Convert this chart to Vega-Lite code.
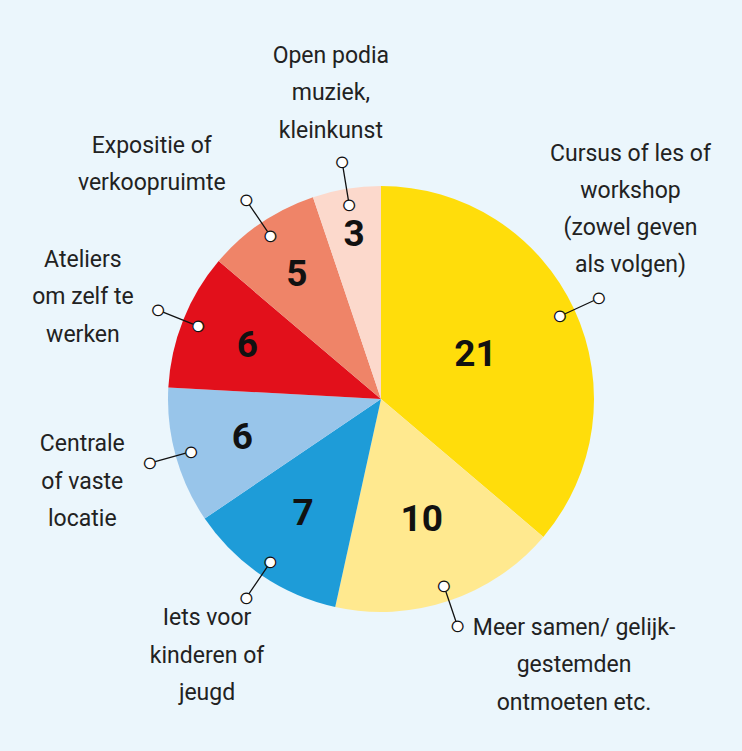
{
  "$schema": "https://vega.github.io/schema/vega-lite/v6.json",
  "width": 742,
  "height": 751,
  "autosize": {"type": "fit", "contains": "padding"},
  "padding": {"left": 20, "top": 47, "right": 0, "bottom": 0},
  "background": "#EBF6FC",
  "config": {"view": {"stroke": null}},
  "data": {
    "values": [
      {"i": 1, "cat": "Cursus", "value": 21, "label": ["Cursus of les of", "workshop", "(zowel geven", "als volgen)"]},
      {"i": 2, "cat": "Meer samen", "value": 10, "label": ["Meer samen/ gelijk-", "gestemden", "ontmoeten etc."]},
      {"i": 3, "cat": "Iets voor", "value": 7, "label": ["Iets voor", "kinderen of", "jeugd"]},
      {"i": 4, "cat": "Centrale", "value": 6, "label": ["Centrale", "of vaste", "locatie"]},
      {"i": 5, "cat": "Ateliers", "value": 6, "label": ["Ateliers", "om zelf te", "werken"]},
      {"i": 6, "cat": "Expositie", "value": 5, "label": ["Expositie of", "verkoopruimte"]},
      {"i": 7, "cat": "Open podia", "value": 3, "label": ["Open podia", "muziek,", "kleinkunst"]}
    ]
  },
  "encoding": {
    "theta": {"field": "value", "type": "quantitative", "stack": true},
    "order": {"field": "i", "type": "quantitative"}
  },
  "layer": [
    {
      "mark": {"type": "arc", "outerRadius": 213},
      "encoding": {
        "color": {
          "field": "cat",
          "type": "nominal",
          "legend": null,
          "scale": {
            "domain": ["Cursus", "Meer samen", "Iets voor", "Centrale", "Ateliers", "Expositie", "Open podia"],
            "range": ["#FFDD0B", "#FFE98F", "#1E9CD8", "#98C5EA", "#E2101B", "#EF8468", "#FCD9CC"]
          }
        }
      }
    },
    {
      "mark": {"type": "text", "font": "Roboto", "fontWeight": "bold", "fontSize": 37, "fill": "#111111", "align": "center", "baseline": "middle"},
      "encoding": {
        "radius": {"field": "value", "type": "quantitative", "scale": {"type": "log", "domain": [3, 21], "range": [166, 104]}},
        "text": {"field": "value", "type": "quantitative"}
      }
    },
    {
      "mark": {"type": "arc", "outerRadius": 240, "innerRadius": 197, "padAngle": 3.14159, "filled": false, "stroke": "#111111", "strokeWidth": 1.3}
    },
    {
      "mark": {"type": "text", "text": "●", "font": "DejaVu Sans", "fontSize": 14, "fill": "#ffffff", "stroke": "#111111", "strokeWidth": 1.3, "align": "center", "baseline": "middle", "radius": 197}
    },
    {
      "mark": {"type": "text", "text": "●", "font": "DejaVu Sans", "fontSize": 14, "fill": "#ffffff", "stroke": "#111111", "strokeWidth": 1.3, "align": "center", "baseline": "middle", "radius": 240}
    },
    {
      "mark": {"type": "text", "font": "Roboto", "fontSize": 23, "fill": "#222222", "align": "center", "baseline": "middle", "lineHeight": 37.5, "radius": 310, "dy": -37.5},
      "encoding": {"text": {"condition": {"test": "length(datum.label) == 3 && datum.cat != 'Meer samen' && datum.cat != 'Ateliers'", "field": "label"}, "value": ""}}
    },
    {
      "mark": {"type": "text", "font": "Roboto", "fontSize": 23, "fill": "#222222", "align": "center", "baseline": "middle", "lineHeight": 37.5, "radius": 315, "thetaOffset": -0.05, "dy": -37.5},
      "encoding": {"text": {"condition": {"test": "datum.cat == 'Ateliers'", "field": "label"}, "value": ""}}
    },
    {
      "mark": {"type": "text", "font": "Roboto", "fontSize": 23, "fill": "#222222", "align": "center", "baseline": "middle", "lineHeight": 37.5, "radius": 329, "thetaOffset": -0.302, "dy": -37.5},
      "encoding": {"text": {"condition": {"test": "datum.cat == 'Meer samen'", "field": "label"}, "value": ""}}
    },
    {
      "mark": {"type": "text", "font": "Roboto", "fontSize": 23, "fill": "#222222", "align": "center", "baseline": "middle", "lineHeight": 37.5, "radius": 328, "thetaOffset": -0.178, "dy": -18.75},
      "encoding": {"text": {"condition": {"test": "length(datum.label) == 2", "field": "label"}, "value": ""}}
    },
    {
      "mark": {"type": "text", "font": "Roboto", "fontSize": 23, "fill": "#222222", "align": "center", "baseline": "middle", "lineHeight": 37, "radius": 313, "thetaOffset": -0.215, "dy": -55.5},
      "encoding": {"text": {"condition": {"test": "length(datum.label) == 4", "field": "label"}, "value": ""}}
    }
  ]
}
